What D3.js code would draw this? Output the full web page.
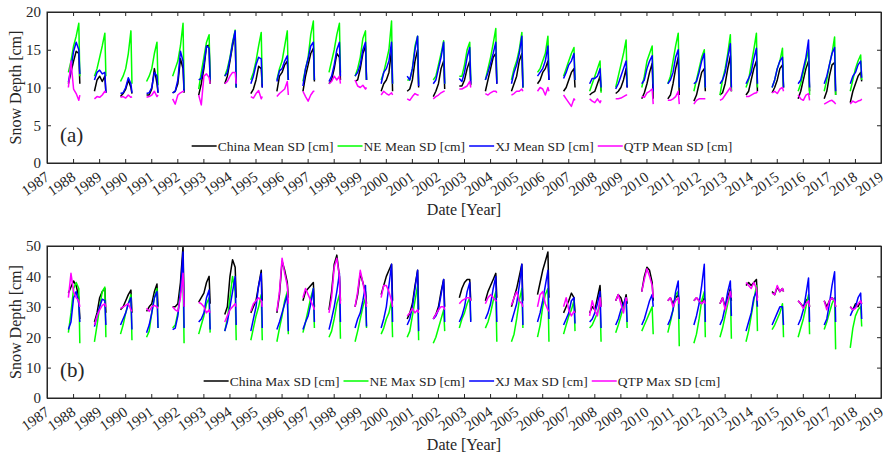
<!DOCTYPE html>
<html>
<head>
<meta charset="utf-8">
<script src="https://cdn.jsdelivr.net/npm/d3@7"></script>
<style>
  body { margin: 0; background: #fff; }
  text { font-family: "Liberation Serif", "Times New Roman", serif; fill: #262626; }
</style>
</head>
<body>
<div id="chart"></div>
<script>
// winter seasons (labelled by the January year) and sample points inside each season
var seasonYears = [1988, 1989, 1990, 1991, 1992, 1993, 1994, 1995, 1996, 1997, 1998, 1999, 2000, 2001, 2002, 2003,
  2004, 2005, 2006, 2007, 2008, 2009, 2010, 2011, 2012, 2013, 2014, 2015, 2016, 2017, 2018];
var seasonOffsets = [-0.18, -0.08, 0.02, 0.12, 0.22, 0.26];
var yearTicks = [1987, 1988, 1989, 1990, 1991, 1992, 1993, 1994, 1995, 1996, 1997, 1998, 1999, 2000, 2001, 2002, 2003,
  2004, 2005, 2006, 2007, 2008, 2009, 2010, 2011, 2012, 2013, 2014, 2015, 2016, 2017, 2018, 2019];
var meanTicks = [0, 5, 10, 15, 20];
var maxTicks = [0, 10, 20, 30, 40, 50];

// (a) mean snow depth, one row per season
var chinaMean = [
  [10.5, 12, 13.5, 14.8, 14.5, 10.5], [9.5, 11, 11.5, 10.8, 11.5, 9.3], [8.8, 9.2, 9.8, 11, 10, 9.2],
  [9, 9, 9.8, 12.5, 10.5, 9.3], [9.3, 9.5, 10.5, 13.8, 12.5, 9.3], [9, 10.5, 12.5, 15.5, 15.6, 10.5],
  [10.5, 11.5, 13.5, 15.5, 17.3, 10], [9.2, 9.8, 11, 12.8, 12.5, 10], [9.5, 11.5, 12, 13, 13.5, 11],
  [9.5, 11.5, 13, 14.5, 15.2, 10.8], [10.5, 11, 12.5, 14.5, 14, 11], [10.8, 11, 12.5, 14.5, 15.5, 11],
  [9.5, 10.5, 11, 12, 15, 9.5], [9.5, 9.8, 11, 13.5, 15, 10], [8.8, 9.5, 10.5, 12.5, 13.5, 9.8],
  [10.2, 10.2, 11, 12.5, 13.5, 10.3], [9.5, 11, 12.5, 14, 14.5, 10.5], [9.5, 10.5, 11.5, 13.5, 14.5, 10],
  [10.5, 11, 12, 12.5, 13.5, 11], [9.5, 10, 11, 12, 12.5, 10], [9, 9.3, 9.5, 10.5, 11.5, 9.5],
  [9.2, 9.5, 10, 11, 12.5, 10], [8.5, 9.3, 10.5, 12, 13.2, 8.5], [8.5, 9, 10.5, 12.5, 14, 9],
  [8.2, 9, 10.5, 12, 12.5, 9.5], [9, 9.3, 10.5, 12.5, 14.2, 9.5], [9, 9.5, 11, 12.5, 13.5, 9.5],
  [9.3, 10, 11, 12.5, 13, 10], [8.5, 9.5, 11, 12.5, 13.5, 9.5], [8.5, 9.5, 11.5, 13, 13.3, 9],
  [8, 9.5, 10.5, 11.5, 12, 10.8]
];
var neMean = [
  [12, 13.5, 15.5, 16.8, 18.5, 11.5], [11.5, 12.5, 14, 15.5, 17.2, 11.5], [10.8, 11.5, 12.5, 14.5, 17.5, 10.5],
  [10.8, 11.5, 12.5, 14.5, 16, 10.3], [11.5, 12.5, 13.5, 15.5, 18.5, 9.8], [9.8, 12, 14, 16, 17, 11],
  [11.5, 12.5, 14, 16, 17.6, 10], [11, 12, 13.5, 15.5, 17.3, 10.5], [11, 12.5, 13.5, 15.5, 17.5, 11],
  [10.8, 12.5, 14, 17, 18.8, 11], [12, 13.5, 15, 17, 18.5, 12], [11.5, 12.5, 14, 16.5, 17.5, 11],
  [11, 12, 13.5, 15, 18.8, 10.5], [11, 11, 12.5, 15.5, 16.8, 10.5], [11, 11.5, 13, 14.5, 16.2, 10.5],
  [11.5, 11.5, 13, 15, 16, 11], [11, 12.5, 14, 15.8, 17.8, 11], [11, 12.5, 13.5, 15, 17.3, 10],
  [12, 12.5, 13.5, 14.5, 16.8, 12], [11.5, 12.5, 13.5, 14.5, 15.3, 11], [9.5, 10.5, 11.5, 12.5, 13.5, 9.3],
  [10, 11.5, 13, 14.5, 16.3, 10.3], [10, 11.5, 13.5, 14.5, 15.5, 10.5], [10.5, 11.5, 13.5, 15.5, 17.2, 10],
  [9.5, 11, 12.5, 14, 15, 10], [9, 11, 12.5, 14.5, 17, 9.5], [10, 11, 13, 15, 17.2, 10],
  [10, 11, 12.5, 13.5, 15.2, 10], [9.5, 10.5, 12, 13.5, 15, 9], [9.5, 11, 13, 14.5, 16.7, 9],
  [9.5, 11, 12.5, 13.5, 14.3, 11]
];
var xjMean = [
  [10.7, 12.5, 14.8, 16, 15, 11.8], [11, 12, 12.3, 11.8, 12, 9.3], [9.2, 9.3, 10, 11.3, 10.5, 9.3],
  [9.2, 9.3, 10, 12, 11.5, 9.3], [9.3, 9.5, 11, 14.8, 13.5, 9.5], [11, 11.2, 13, 15.5, 15.2, 11],
  [11.5, 12, 13.8, 15.8, 17.5, 10], [10.5, 11.5, 13, 14, 13.8, 10], [10.8, 12.2, 12.5, 13.5, 14.2, 11],
  [10.2, 12.5, 13.8, 15.5, 16, 11], [10.8, 11.5, 13, 15, 16, 11.5], [11.5, 12, 13, 15, 16, 11],
  [10.5, 12, 12.5, 13.5, 16, 10.5], [11.5, 11, 12.5, 15, 16.8, 10.2], [10.5, 11, 12.5, 14, 16, 10.5],
  [11.2, 10.8, 12, 14, 15.3, 10.5], [11, 12, 13.2, 14.5, 16, 10.5], [10.5, 12, 13, 14.5, 16.8, 10],
  [11.5, 12, 12.5, 13.5, 15.5, 11], [11.2, 12, 13, 13.5, 14.5, 11], [10.5, 11.2, 11.2, 11.5, 12.5, 10],
  [9.8, 10.5, 11.5, 12.5, 13.5, 10], [10.5, 11, 12.5, 13.5, 14.2, 9.5], [10.5, 11, 12, 14, 15, 10],
  [10.5, 10.8, 12, 13.5, 14.5, 10], [10.5, 11, 12, 14, 15.8, 10], [10.5, 11.2, 12, 13.8, 15.2, 10.5],
  [10, 11, 12.5, 13.5, 14, 10], [10.5, 11, 12.5, 14, 16.3, 10], [10.5, 11.5, 13, 14.5, 15.3, 9.5],
  [10.5, 11.5, 12, 13, 13.5, 11.3]
];
var qtpMean = [
  [10, 13.5, 9.8, 9.2, 8.3, 9], [8.5, 8.8, 8.7, 9, 9.5, 9.3], [8.7, 8.8, 8.6, 9, 8.7, 8.8],
  [8.7, 8.8, 9, 9.5, 8.8, 9], [8.5, 7.8, 9, 9.3, 9.5, 9.5], [9, 7.7, 11.5, 11.8, 11.3, 10.5],
  [10.5, 10.8, 11.5, 12, 12, 10.5], [8.8, 8.6, 9.2, 9.6, 8.5, 8.8], [8.8, 9.2, 9.5, 9.8, 10.8, 9],
  [9.5, 8.8, 8.2, 9, 9.5, 9.5], [10.5, 10.8, 11.5, 11, 11.5, 10.5], [11, 10.2, 10, 10.3, 9.8, 10],
  [9, 9.5, 9.2, 9, 9.3, 9], [8.5, 8.3, 8.8, 9.2, 9, 9], [8.5, 8.8, 9, 9.3, 9.5, 9.5],
  [9.8, 9.8, 10, 10.2, 10.8, 10], [9.2, 9, 9.3, 9.5, 9.5, 9.3], [9, 9.2, 9.5, 9.5, 9.8, 9.5],
  [9.5, 10, 9.8, 9, 10, 9.5], [9, 8.5, 8, 7.5, 8.5, 8.3], [8.5, 8.2, 8, 8.5, 8, 8.3],
  [8.5, 8.5, 8.6, 8.8, 9, 9], [8.8, 8.7, 9.3, 9.5, 9.8, 7.8], [8.3, 8.3, 8.5, 8.8, 9.5, 7.8],
  [7.8, 8.3, 8.5, 8.5, 8.5, 8.5], [8.3, 8.5, 9, 9.5, 10, 9.5], [8.8, 8.8, 9, 9.2, 9.3, 9.5],
  [9.3, 9.5, 9.2, 9.8, 10, 9.5], [9, 8.5, 8.3, 9, 9.2, 8.3], [7.8, 8, 8.2, 8.3, 8, 7.8],
  [7.8, 8.2, 8, 8.2, 8.3, 8.5]
];

// (b) max snow depth, one row per season
var chinaMax = [
  [34.5, 36.5, 38.5, 37, 33, 26], [25, 28, 33, 35, 36, 28], [29, 30, 32, 34, 35.5, 28],
  [28.5, 30, 31, 35, 37.5, 30], [30, 30, 31, 38, 50, 30], [31.5, 33, 34.5, 38, 40, 31],
  [27.5, 30, 40, 45.5, 43, 33], [28, 30, 32, 37, 42, 32], [28, 34, 45, 42, 38, 33],
  [32, 35, 36, 37, 38, 30], [29, 35, 44, 47, 40, 32], [30, 34, 41, 38, 35, 31],
  [34, 37, 40, 42, 44, 32], [26, 28, 31, 37, 42, 29], [26, 27.5, 30, 35, 39, 30],
  [33, 36, 38, 39, 39, 32], [32, 35, 37, 39, 41, 33], [30, 33, 36, 40, 44, 32],
  [34, 38, 42, 45, 48, 33], [28, 30, 32, 34.5, 33, 28], [28, 30, 29, 33, 37, 30],
  [32, 34, 33, 30, 34, 31], [35, 40, 43, 42, 38, 32], [32, 33, 31, 33, 34, 31],
  [32, 33, 32, 31, 33, 31], [31, 33, 30, 33, 36, 32], [37, 38, 37, 38, 39, 33],
  [35, 34, 36.5, 35, 36, 35], [32, 31, 30, 32, 33, 30], [32, 30, 32, 33, 32, 30],
  [30, 29, 31, 30, 32, 31]
];
var neMax = [
  [21.5, 28, 36, 38, 36, 18], [18.5, 24, 30, 35, 36.5, 20], [21, 24, 28, 31, 34, 19],
  [20, 22, 28, 33, 36, 23], [23, 24, 28, 35, 40, 18], [21, 24, 27, 31, 33, 21.5],
  [22, 26, 33, 40, 35, 19], [19, 23, 27, 30, 34, 19], [18.5, 23, 27, 32, 35, 21],
  [21.5, 25, 29, 33, 36, 23], [20, 22, 26, 31, 34, 19.5], [18.5, 22, 26, 30, 33, 23],
  [21, 23, 26, 28, 32, 20], [20, 22, 27, 32, 37, 19], [18, 20, 23, 26, 29, 22],
  [23, 26, 28, 31, 33, 25.5], [23, 25, 28, 32, 35, 18.5], [18.5, 21, 26, 32, 36, 23],
  [20, 24, 30, 34, 36, 18.5], [21, 24, 27, 29, 32, 22], [23, 24, 26, 28, 31, 18.5],
  [21.5, 24, 27, 30, 33, 23], [22, 24, 26, 28, 30, 21], [21.5, 25, 29, 34, 35, 17],
  [18, 21, 26, 32, 35, 20], [20, 23, 27, 31, 35, 19.5], [18.5, 22, 27, 32, 37, 22],
  [22.5, 24, 26, 28, 31, 20], [20, 23, 26, 30, 34, 21], [22.5, 25, 28, 31, 33, 16],
  [16.5, 23, 27, 29, 30, 23.5]
];
var xjMax = [
  [22.5, 25, 33, 35, 31, 25], [23.5, 27, 30, 32.5, 32, 24], [24, 26, 28, 31, 33, 22.5],
  [21.5, 24, 28, 33, 35, 23], [22.5, 23, 27, 35, 48, 23], [25, 26, 28, 33, 35.5, 22.5],
  [22, 25, 30, 35, 40, 24], [22, 26, 30, 37, 41, 23], [22.5, 25, 28, 31, 34, 22],
  [22.5, 25, 27, 31, 36, 25], [22.5, 26, 30, 35, 41, 25], [23, 26, 28, 32, 37, 23.5],
  [23, 26, 30, 37, 44, 25], [24, 26, 30, 36, 42, 22], [26, 27, 29, 34, 39, 25],
  [25, 27, 30, 35, 38, 25], [26, 28, 31, 36, 40, 25], [25, 28, 31, 37, 44, 24],
  [25, 28, 32, 37, 42, 26], [24, 26, 28, 32, 33, 24.5], [25, 26, 28, 31, 35, 23],
  [24, 26, 29, 31, 33, 25], [24, 26, 29, 32, 34, 30], [24, 26, 29, 35, 38.5, 26],
  [24, 27, 31, 37, 44, 25], [24, 26, 30, 35, 38.5, 27], [22, 25, 28, 33, 35, 30],
  [24, 26, 28, 30, 30, 24], [24, 26, 29, 34, 39.5, 25], [24, 26, 31, 37, 41.5, 25],
  [27, 29, 30, 33, 34.5, 26]
];
var qtpMax = [
  [33, 41, 35, 33, 32, 30], [24, 27, 29, 30.5, 31, 30], [29.5, 30, 30.5, 31, 29, 28.5],
  [29.5, 28.5, 30, 30.5, 30, 29.5], [30, 29, 28.5, 33, 41, 30], [31.5, 31, 30, 28, 29, 28],
  [25, 27, 29, 30, 31, 30], [28.5, 31, 32, 33, 32, 30], [28.5, 35, 46, 41, 37, 31],
  [33, 36, 34, 32, 30, 29], [28, 33, 43, 46, 40, 31], [30, 35, 42, 38, 33, 30],
  [33, 37, 37, 35, 32, 30], [27, 28, 29.5, 28, 29, 28], [26, 27.5, 29, 30, 30, 29],
  [31, 32, 32.5, 33, 33, 32], [31, 33, 34, 33, 32, 32], [30.5, 33, 35, 32, 31, 30],
  [30, 34, 35, 31, 29, 28.5], [30, 33, 29, 27, 28.5, 28], [27, 32, 29, 27, 33, 30],
  [32, 34, 31, 28, 33, 32], [35, 39, 42.5, 40, 37, 33], [32, 33, 30, 32, 33, 31],
  [32, 33, 32, 31, 32, 31], [31, 33, 29, 32, 35, 33], [38, 37, 36, 38, 36, 32],
  [34.5, 34, 37, 35, 36, 35], [32, 31, 29.5, 31, 32, 30], [32, 29, 32, 33, 32, 30],
  [30, 29, 29.5, 31, 32, 31]
];

var colors = ["#000000", "#00ff00", "#0000ff", "#ff00ff"];

var width = 889, height = 458;
var svg = d3.select("#chart").append("svg")
  .attr("width", width)
  .attr("height", height);

var xScale = d3.scaleLinear().domain([1987, 2019]).range([47, 881]);

var panels = [
  { top: 12, bottom: 163, max: 20, ticks: meanTicks, tag: "(a)",
    series: [chinaMean, neMean, xjMean, qtpMean],
    names: ["China Mean SD [cm]", "NE Mean SD [cm]", "XJ Mean SD [cm]", "QTP Mean SD [cm]"] },
  { top: 246, bottom: 398, max: 50, ticks: maxTicks, tag: "(b)",
    series: [chinaMax, neMax, xjMax, qtpMax],
    names: ["China Max SD [cm]", "NE Max SD [cm]", "XJ Max SD [cm]", "QTP Max SD [cm]"] }
];

panels.forEach(function (p, pi) {
  var yScale = d3.scaleLinear().domain([0, p.max]).range([p.bottom, p.top]);
  var g = svg.append("g");

  // clip the lines to the axes box
  g.append("clipPath").attr("id", "clip" + pi)
    .append("rect")
    .attr("x", 47).attr("y", p.top)
    .attr("width", 834).attr("height", p.bottom - p.top);

  var line = d3.line()
    .x(function (d) { return xScale(d.t); })
    .y(function (d) { return yScale(d.v); });

  var lines = g.append("g").attr("clip-path", "url(#clip" + pi + ")");
  p.series.forEach(function (rows, si) {
    rows.forEach(function (vals, k) {
      var pts = vals.map(function (v, j) {
        return { t: seasonYears[k] + seasonOffsets[j], v: v };
      });
      lines.append("path")
        .datum(pts)
        .attr("fill", "none")
        .attr("stroke", colors[si])
        .attr("stroke-width", 1.5)
        .attr("stroke-linejoin", "round")
        .attr("d", line);
    });
  });

  // axes, ticks pointing inward on all four sides
  var left = g.append("g")
    .attr("transform", "translate(47,0)")
    .call(d3.axisLeft(yScale).tickValues(p.ticks).tickSizeInner(-4).tickSizeOuter(0).tickPadding(6));
  left.selectAll("text").style("font-size", "15px");

  g.append("g")
    .attr("transform", "translate(881,0)")
    .call(d3.axisRight(yScale).tickValues(p.ticks).tickSizeInner(-4).tickSizeOuter(0).tickFormat(""));

  g.append("g")
    .attr("transform", "translate(0," + p.top + ")")
    .call(d3.axisTop(xScale).tickValues(yearTicks).tickSizeInner(-4).tickSizeOuter(0).tickFormat(""));

  var bottom = g.append("g")
    .attr("transform", "translate(0," + p.bottom + ")")
    .call(d3.axisBottom(xScale).tickValues(yearTicks).tickSizeInner(-4).tickSizeOuter(0).tickFormat(d3.format("d")));
  bottom.selectAll("text")
    .style("font-size", "15px")
    .attr("text-anchor", "end")
    .attr("y", 0)
    .attr("dy", "0.35em")
    .attr("transform", "translate(0,12) rotate(-35)");

  g.selectAll(".domain").attr("stroke", "#262626");
  g.selectAll(".tick line").attr("stroke", "#262626");
  g.append("rect")
    .attr("x", 47).attr("y", p.top)
    .attr("width", 834).attr("height", p.bottom - p.top)
    .attr("fill", "none")
    .attr("stroke", "#262626")
    .attr("stroke-width", 1);

  // axis titles
  g.append("text")
    .attr("transform", "translate(21," + (p.top + p.bottom) / 2 + ") rotate(-90)")
    .attr("text-anchor", "middle")
    .style("font-size", "16px")
    .text("Snow Depth [cm]");

  g.append("text")
    .attr("x", 464)
    .attr("y", p.bottom + 52)
    .attr("text-anchor", "middle")
    .style("font-size", "16px")
    .text("Date [Year]");

  g.append("text")
    .attr("x", 60)
    .attr("y", p.bottom - 21)
    .style("font-size", "21px")
    .text(p.tag);

  // legend, one row centred inside the axes
  var leg = g.append("g");
  var legY = p.bottom - 17;
  var cursor = 0;
  p.names.forEach(function (name, i) {
    var item = leg.append("g").attr("transform", "translate(" + cursor + ",0)");
    item.append("line")
      .attr("x1", 0).attr("x2", 25)
      .attr("y1", legY).attr("y2", legY)
      .attr("stroke", colors[i])
      .attr("stroke-width", 1.5);
    var t = item.append("text")
      .attr("x", 26)
      .attr("y", legY)
      .attr("dy", "0.35em")
      .style("font-size", "13.5px")
      .text(name);
    cursor += 26 + t.node().getComputedTextLength() + 4;
  });
  leg.attr("transform", "translate(" + (464 - cursor / 2) + ",0)");
});
</script>
</body>
</html>
